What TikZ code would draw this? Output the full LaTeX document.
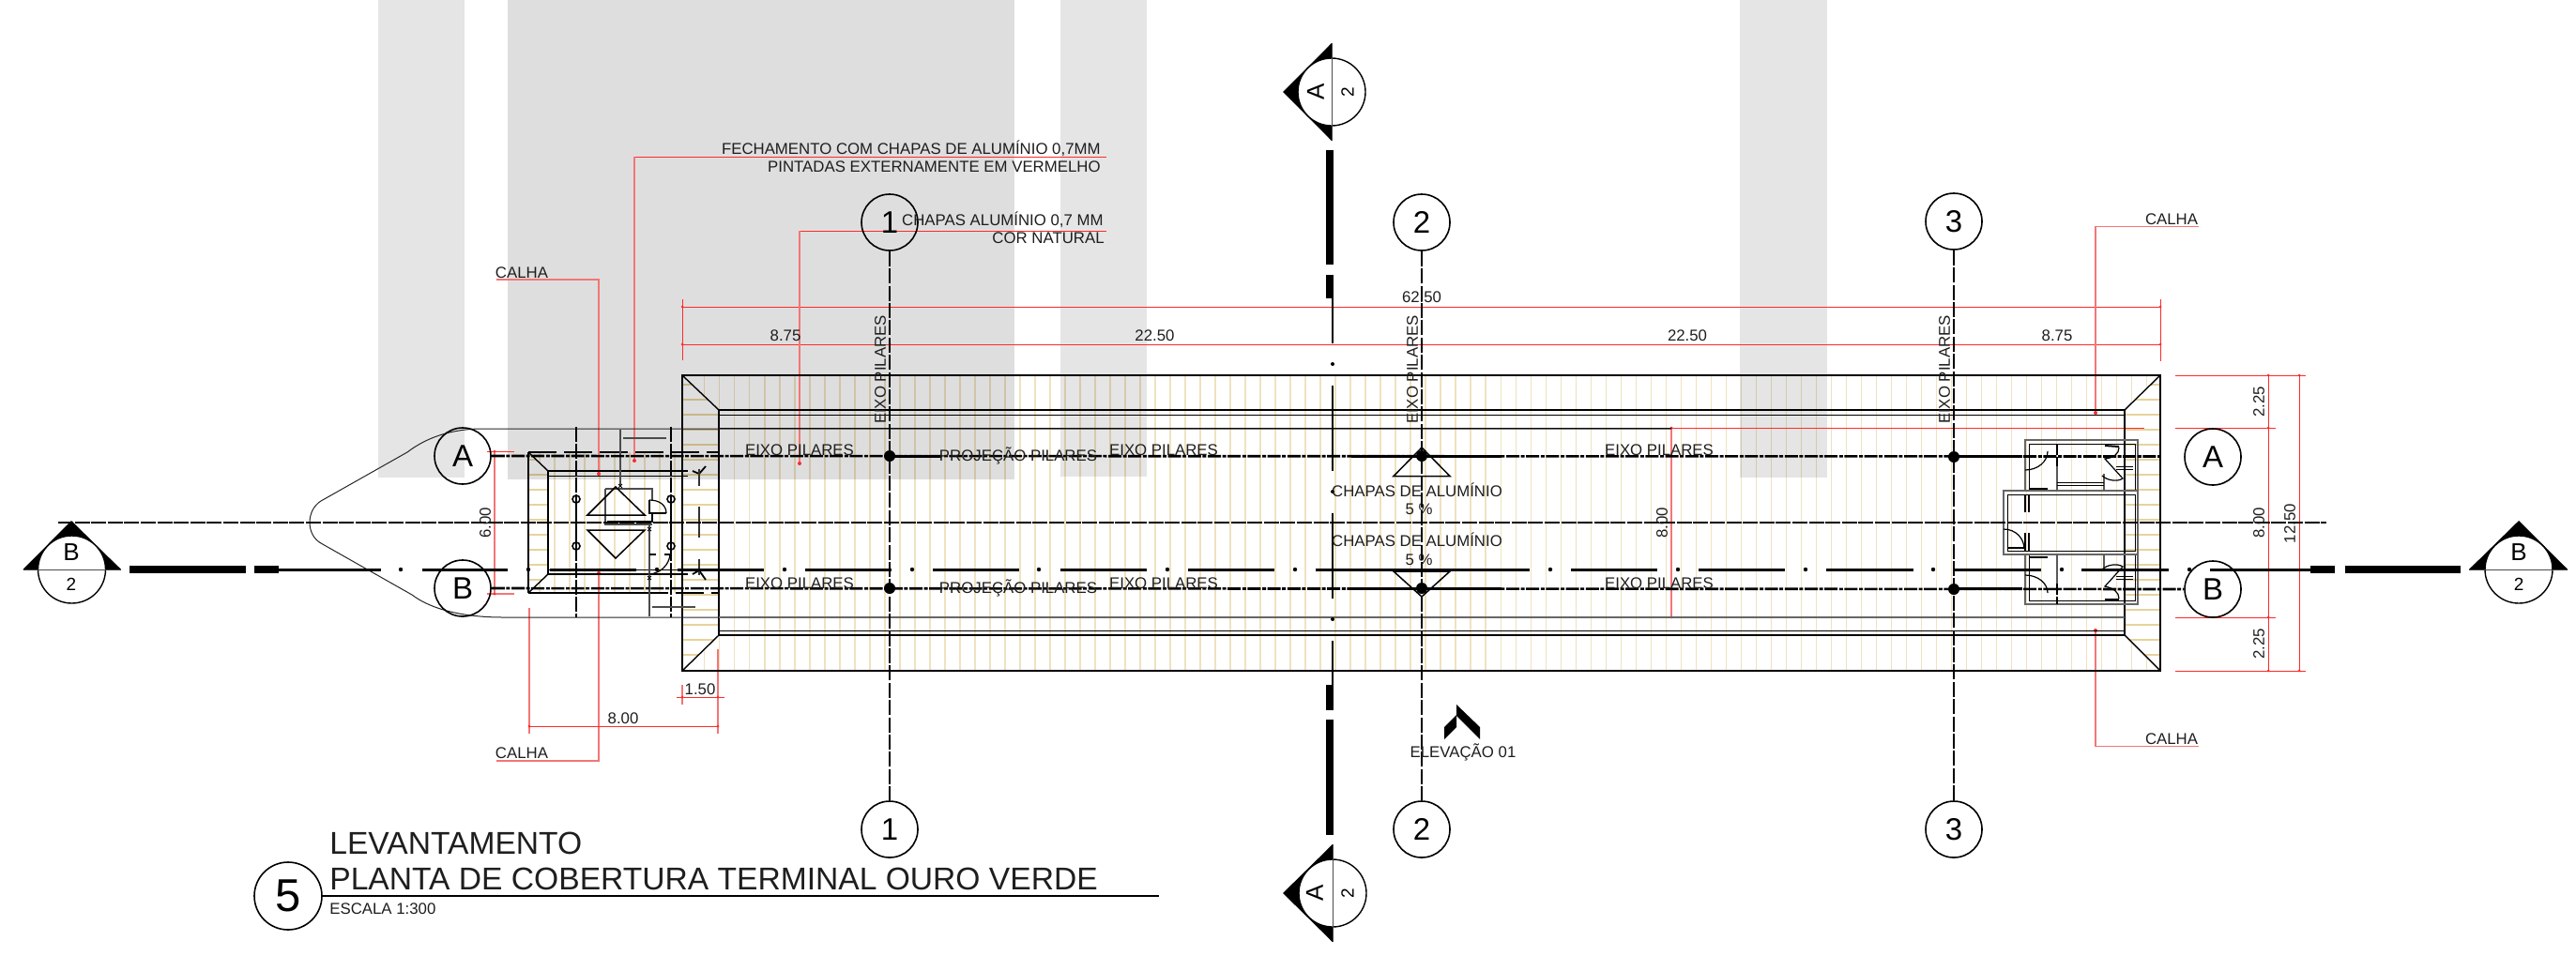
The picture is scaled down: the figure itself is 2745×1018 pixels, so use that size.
\documentclass[tikz,border=0pt]{standalone}
\usepackage{fontspec}
\setmainfont{Liberation Sans}
\definecolor{hatch}{HTML}{EFE2C0}
\definecolor{hatchh}{HTML}{E6D39C}
\definecolor{ink}{HTML}{1E1E1E}
\definecolor{redl}{HTML}{FF2A2A}
\definecolor{pinkl}{HTML}{F57575}
\tikzset{
  bub/.style={circle,draw=black,line width=0.8pt,minimum size=30pt,inner sep=0pt,font=\fontsize{16.5}{18}\selectfont},
  lab/.style={inner sep=0pt,text=ink,font=\fontsize{8.4}{10}\selectfont},
  secA/.style={inner sep=0pt,font=\fontsize{13}{15}\selectfont},
  secN/.style={inner sep=0pt,font=\fontsize{9.5}{11}\selectfont},
  gridl/.style={line width=1.3pt,dash pattern=on 8pt off 1.2pt,black},
  axisl/.style={line width=1.3pt,dash pattern=on 7pt off .8pt on 2pt off .8pt,black},
  secdash/.style={line width=1.5pt,black},
  hat/.style={line width=.75pt,hatch},
  hath/.style={line width=.7pt,hatchh},
  red1/.style={line width=.45pt,redl},
  red2/.style={line width=.75pt,pinkl},
  wall/.style={line width=.5pt,black},
  gwall/.style={line width=.6pt,black!60},
  thin1/.style={line width=.7pt,black},
}
\begin{document}
\begin{tikzpicture}[x=.5pt,y=-.5pt]
\useasboundingbox (0,0) rectangle (2745,1018);
\fill[white] (0,0) rectangle (2745,1018);
% hatching, main roof
\begin{scope}
\clip (727,400)--(2302,400)--(2264,437)--(2264,677)--(2302,715)--(727,715)--(766,677)--(766,437)--cycle;
\foreach \k in {0,...,96}{\draw[hat] ({750.7+16.01*\k},400)--({750.7+16.01*\k},715);}
\end{scope}
\begin{scope}
\clip (727,400)--(766,437)--(766,677)--(727,715)--cycle;
\foreach \k in {0,...,19}{\draw[hath] (727,{410+16*\k})--(766,{410+16*\k});}
\end{scope}
\begin{scope}
\clip (2302,400)--(2264,437)--(2264,677)--(2302,715)--cycle;
\foreach \k in {0,...,19}{\draw[hath] (2264,{410+16*\k})--(2302,{410+16*\k});}
\end{scope}
% hatching, small roof
\begin{scope}
\clip (563,482)--(727,482)--(727,632)--(563,632)--(584,612)--(584,502)--cycle;
\foreach \k in {0,...,9}{\draw[hat] ({575+16*\k},482)--({575+16*\k},632);}
\end{scope}
\begin{scope}
\clip (563,482)--(584,502)--(584,612)--(563,632)--cycle;
\foreach \k in {0,...,8}{\draw[hath] (563,{490+16*\k})--(584,{490+16*\k});}
\end{scope}
% grey bands
\fill[black,opacity=.10] (403,0) rectangle (495,509);
\fill[black,opacity=.13] (541,0) rectangle (1081,511);
\fill[black,opacity=.10] (1130,0) rectangle (1222,508);
\fill[black,opacity=.10] (1854,0) rectangle (1947,509);
% red leaders and dimensions
\draw[red1] (727,319)--(727,384);
\draw[red1] (2302,319)--(2302,385);
\draw[red1] (727,327)--(2302,327);
\draw[red1] (727,367)--(2302,367);
\foreach \p in {(727,327),(727,367),(2302,327),(2302,367),(948,367),(1515,367),(2082,367)}{\fill[redl] \p circle (1.5);}
\draw[red2] (529,298)--(638,298)--(638,505);
\fill[redl] (638,505) circle (2);
\draw[red2] (529,811)--(638,811)--(638,611);
\fill[redl] (638,611) circle (2);
\draw[red1] (1179,167)--(676,167);
\draw[red2] (676,167)--(676,491);
\fill[redl] (676,491) circle (2);
\draw[red1] (1179,246)--(852,246);
\draw[red2] (852,246)--(852,494);
\fill[redl] (852,494) circle (2);
\draw[red1] (519,481)--(548,481);
\draw[red2] (519,633)--(548,633);
\draw[red2] (527,481)--(527,633);
\fill[redl] (527,481) circle (1.5);
\fill[redl] (527,633) circle (1.5);
\draw[red2] (727,730)--(727,751);
\draw[red2] (765,692)--(765,782);
\draw[red1] (721,743)--(772,743);
\fill[redl] (727,743) circle (1.5);
\fill[redl] (765,743) circle (1.5);
\draw[red2] (564,648)--(564,782);
\draw[red1] (564,774)--(765,774);
\fill[redl] (564,774) circle (1.5);
\fill[redl] (765,774) circle (1.5);
\draw[red1] (2318,400)--(2457,400);
\draw[red1] (2318,456)--(2425,456);
\draw[red1] (2318,658)--(2425,658);
\draw[red1] (2318,715)--(2457,715);
\draw[red1] (2417,400)--(2417,715);
\draw[red1] (2450,400)--(2450,715);
\foreach \p in {(2417,400),(2417,456),(2417,658),(2417,715),(2450,400),(2450,715)}{\fill[redl] \p circle (1.5);}
\draw[red2] (2343,241.5)--(2233,241.5)--(2233,440);
\fill[redl] (2233,440) circle (2);
\draw[red2] (2343,795.5)--(2233,795.5)--(2233,672);
\fill[redl] (2233,672) circle (2);
\draw[red1] (1781,456)--(2285,456);
\draw[red2] (1781,456)--(1781,658);
\draw[red1] (1744,658)--(1788,658);
\fill[redl] (1781,456) circle (1.5);
\fill[redl] (1781,658) circle (1.5);
% roof outlines
\draw[thin1] (727,400) rectangle (2302,715);
\draw[line width=1.05pt,dash pattern=on 20pt off 4pt] (727,400)--(2302,400);
\draw[line width=1.05pt,dash pattern=on 20pt off 4pt] (727,715)--(2302,715);
\draw[thin1] (766,437) rectangle (2264,677);
\draw[wall] (766,442)--(2264,442);
\draw[wall] (766,672)--(2264,672);
\draw[wall] (766,456.5)--(1781,456.5);
\draw[line width=.6pt,black!60] (766,658)--(2264,658);
\draw[thin1] (727,400)--(766,437);
\draw[thin1] (727,715)--(766,677);
\draw[thin1] (2302,400)--(2264,437);
\draw[thin1] (2302,715)--(2264,677);
% small roof
\draw[thin1] (563,482)--(563,632);
\draw[line width=1.1pt] (563,632)--(682,632);
\draw[line width=1pt,dash pattern=on 15pt off 4pt] (682,632)--(766,632);
\draw[line width=1pt,dash pattern=on 15pt off 4pt] (563,482)--(766,482);
\draw[thin1] (563,482)--(584,502);
\draw[thin1] (563,632)--(584,612);
\draw[thin1] (584,502)--(584,612);
\draw[thin1] (584,502)--(733,502);
\draw[wall] (584,507)--(733,507);
\draw[thin1] (584,612)--(733,612);
\draw[wall] (584,607)--(733,607);
\draw[line width=.9pt] (738,502)--(745,505)--(752,497);
\draw[line width=.9pt] (738,612)--(745,608)--(752,618);
\draw[line width=.8pt,black!80] (745,500)--(745,518);
\draw[line width=.8pt,black!80] (745,540)--(745,573);
\draw[line width=.8pt,black!80] (745,596)--(745,613);
% outline of the canopy
\draw[line width=.5pt,black!85] (1781,457)--(510,457) .. controls (480,458) and (455,466) .. (434,482)
 -- (342,534) .. controls (326,544) and (326,570) .. (342,579) -- (439,634)
 .. controls (460,650) and (495,658) .. (536,658)--(766,658);
% small building columns
\draw[line width=1.2pt,dash pattern=on 8pt off 1pt] (614,455)--(614,532);
\draw[line width=1.2pt] (614,532)--(614,582);
\draw[line width=1.2pt,dash pattern=on 8pt off 1pt] (614,582)--(614,658);
\draw[line width=1.2pt,dash pattern=on 8pt off 1pt] (715,455)--(715,532);
\draw[line width=1.2pt] (715,532)--(715,582);
\draw[line width=1.2pt,dash pattern=on 8pt off 1pt] (715,582)--(715,658);
\foreach \p in {(614,532),(715,532),(614,582),(715,582)}{\draw[line width=.8pt] \p circle (4);}
% small building room
\draw[line width=.8pt,black!70] (645,521)--(695,521)--(695,533);
\draw[line width=1.2pt,black!70] (645,521)--(645,559)--(695,559);
\draw[line width=.8pt] (692,533)--(692,547)--(710,547);
\draw[line width=.6pt] (692,533) .. controls (702,533) and (710,538) .. (710,547);
\draw[line width=1.1pt] (647,556)--(695,556)--(695,547);
\draw[line width=.9pt,black!70] (692,560)--(692,657);
\draw[line width=.9pt,black!70] (661,458)--(661,517);
\draw[line width=1pt,black!70] (664,467)--(710,467);
\draw[line width=1pt,black!70] (695,647)--(741,647);
\foreach \x/\y in {661/518,692/564,692/616}{\draw[line width=.5pt] ({\x-2},{\y-2})--({\x+2},{\y+2}) ({\x-2},{\y+2})--({\x+2},{\y-2});}
\draw[line width=1.2pt] (692,591)--(699,591);
\draw[line width=1.2pt] (708,591)--(715,591);
\draw[line width=.6pt] (714,591) .. controls (713,602) and (704,611) .. (692,612);
% main pillars triangles
\draw[line width=.75pt,black] (656,519)--(687,549)--(626,549)--cycle;
\draw[line width=.75pt,black] (626,565)--(687,565)--(656,595)--cycle;
\draw[line width=.75pt,black] (1515,477)--(1545,507.5)--(1485,507.5)--cycle;
\draw[line width=.75pt,black] (1485,609)--(1545,609)--(1515,636)--cycle;
% toilets
\draw[gwall] (2158,523)--(2158,469)--(2278,469)--(2278,523);
\draw[wall] (2162,523)--(2162,473)--(2275,473)--(2275,523);
\draw[gwall] (2158,590)--(2158,644)--(2278,644)--(2278,590);
\draw[wall] (2162,590)--(2162,640)--(2275,640)--(2275,590);
\draw[gwall] (2135,523)--(2278,523)--(2278,591)--(2135,591)--cycle;
\draw[wall] (2139,527)--(2275,527)--(2275,587)--(2139,587)--cycle;
\draw[line width=.6pt] (2158,501) arc (90:0:24 and 20);
\draw[line width=1pt] (2162,521)--(2182,521);
\draw[line width=.6pt] (2158,613) arc (270:360:24 and 19);
\draw[line width=1pt] (2162,594)--(2182,594);
\draw[line width=.6pt] (2135,564) .. controls (2148,564) and (2157,574) .. (2157,585);
\draw[line width=1pt] (2139,584)--(2157,584);
\foreach \a/\b in {527/546,568/587}{\draw[line width=.8pt] (2158,\a)--(2158,\b); \draw[line width=.8pt] (2162,\a)--(2162,\b);}
\draw[line width=.7pt,dash pattern=on 6pt off 1pt] (2192,473)--(2192,497);
\draw[line width=1pt,black!65] (2192,497)--(2192,523);
\draw[line width=1pt,black!65] (2242,505)--(2242,523);
\draw[wall] (2192,514)--(2242,514);
\draw[wall] (2192,517.5)--(2242,517.5);
\draw[line width=1pt,black!65] (2192,591)--(2192,622);
\draw[line width=.7pt,dash pattern=on 6pt off 1pt] (2192,622)--(2192,644);
\draw[line width=1pt,black!65] (2242,591)--(2242,605);
\draw[line width=1pt] (2243,475)--(2258,476);
\draw[line width=.6pt] (2258,477) .. controls (2258,484) and (2252,488) .. (2243,489)--(2262,510) .. controls (2256,514) and (2245,512) .. (2240,507);
\draw[wall] (2255,497)--(2273,497);
\draw[wall] (2255,500)--(2273,500);
\draw[line width=1pt] (2243,639)--(2258,639);
\draw[line width=.6pt] (2258,638) .. controls (2258,631) and (2252,627) .. (2243,625)--(2262,604) .. controls (2256,600) and (2245,602) .. (2240,607);
\draw[wall] (2255,614)--(2273,614);
\draw[wall] (2255,617)--(2273,617);
% section line B
\foreach \a/\b in {450/541,586/678,722/814,858/950,994/1086,1130/1222,1266/1358,1402/1630,1674/1766,1810/1902,1946/2039,2082/2175,2218/2311}{\draw[secdash] (\a,607)--(\b,607);}
\foreach \x in {427,563,700,836,972,1107,1244,1380,1652,1788,1924,2060,2197,2333}{\fill[black] (\x,607) circle (2.2);}
\draw[secdash] (297,607)--(406,607);
\draw[secdash] (2355,607)--(2462,607);
\fill[black] (138,603) rectangle (262,611);
\fill[black] (271,603) rectangle (297,611);
\fill[black] (2462,603) rectangle (2488,611);
\fill[black] (2499,603) rectangle (2622,611);
% section line A
\fill[black] (1413,160) rectangle (1421,282);
\fill[black] (1413,293) rectangle (1421,318);
\fill[black] (1413,730) rectangle (1421,757);
\fill[black] (1413,767) rectangle (1421,890);
\foreach \a/\b in {318/366,411/502,547/638,683/730}{\draw[line width=1pt] (1420,\a)--(1420,\b);}
\foreach \y in {388,524,660}{\fill[black] (1420,\y) circle (2);}
% centre line
\coordinate (mL) at (62,557);
\coordinate (mR) at (2479,557);
\draw[line width=1.2pt,dash pattern=on 8pt off .8pt] (mL)--(mR);
% grid bubbles and axes
\node[bub] (g1t) at (948,237) {1};
\node[bub] (g2t) at (1515,237) {2};
\node[bub] (g3t) at (2082,236) {3};
\node[bub] (g1b) at (948,884) {1};
\node[bub] (g2b) at (1515,884) {2};
\node[bub] (g3b) at (2082,884) {3};
\node[bub] (aL) at (493,486) {A};
\node[bub] (bL) at (493,627) {B};
\node[bub] (aR) at (2358,487) {A};
\node[bub] (bR) at (2358,628) {B};
\coordinate (aE) at (2302,486.5);
\draw[gridl] (g1t)--(g1b);
\draw[gridl] (g2t)--(g2b);
\draw[gridl] (g3t)--(g3b);
\draw[axisl] (aL)--(aE);
\draw[axisl] (bL)--(bR);
\foreach \a/\b in {948/1003,1440/1600,2082/2155}{\draw[line width=1.3pt] (\a,486.5)--(\b,486.5);}
\foreach \a/\b in {1440/1600,2082/2155}{\draw[line width=1.3pt] (\a,627.5)--(\b,627.5);}
\foreach \p in {(948,486),(1515,486),(2082,487),(948,627),(1515,627),(2082,628)}{\fill[black] \p circle (6);}
% section symbols
\fill[black] (24.5,607)--(76,555)--(129,607)--cycle;
\node[circle,draw=black,line width=.7pt,fill=white,minimum size=36pt,inner sep=0pt] (sB1) at (76.5,607) {};
\draw[line width=.5pt,black!70] (24.5,607)--(129,607);
\fill[black] (24.5,607)--(38,594)--(41,607)--cycle;
\fill[black] (129,607)--(115,594)--(112,607)--cycle;
\node[secA] (sB1a) at (76,589) {B};
\node[secN] (sB1n) at (76,623) {2};
\fill[black] (2631,607)--(2684,555)--(2736,607)--cycle;
\node[circle,draw=black,line width=.7pt,fill=white,minimum size=36pt,inner sep=0pt] (sB2) at (2684,607) {};
\draw[line width=.5pt,black!70] (2631,607)--(2736,607);
\fill[black] (2631,607)--(2645,594)--(2648,607)--cycle;
\fill[black] (2736,607)--(2722,594)--(2719,607)--cycle;
\node[secA] (sB2a) at (2684,589) {B};
\node[secN] (sB2n) at (2684,623) {2};
\fill[black] (1419,46)--(1367,98)--(1419,150)--cycle;
\node[circle,draw=black,line width=.7pt,fill=white,minimum size=36pt,inner sep=0pt] (sA1) at (1419,98) {};
\draw[line width=.5pt,black!70] (1419,46)--(1419,150);
\fill[black] (1419,46)--(1406,60)--(1419,62)--cycle;
\fill[black] (1419,150)--(1406,136)--(1419,134)--cycle;
\node[secA,rotate=90] (sA1a) at (1402,98) {A};
\node[secN,rotate=90] (sA1n) at (1436,98) {2};
\fill[black] (1420,900)--(1367,952)--(1420,1004)--cycle;
\node[circle,draw=black,line width=.7pt,fill=white,minimum size=36pt,inner sep=0pt] (sA2) at (1420,952) {};
\draw[line width=.5pt,black!70] (1420,900)--(1420,1004);
\fill[black] (1420,900)--(1407,914)--(1420,916)--cycle;
\fill[black] (1420,1004)--(1407,990)--(1420,988)--cycle;
\node[secA,rotate=90] (sA2a) at (1401,952) {A};
\node[secN,rotate=90] (sA2n) at (1436,952) {2};
% elevation arrow
\fill[black] (1552,751)--(1577,775)--(1577,788)--(1552,763)--cycle;
\fill[black] (1539,775)--(1552,762)--(1552,775)--(1539,788)--cycle;
% labels
\node[lab,anchor=east] (t1) at (1173,158) {FECHAMENTO COM CHAPAS DE ALUMÍNIO 0,7MM};
\node[lab,anchor=east] (t2) at (1173,178) {PINTADAS EXTERNAMENTE EM VERMELHO};
\node[lab,anchor=east] (t3) at (1176,234) {CHAPAS ALUMÍNIO 0,7 MM};
\node[lab,anchor=east] (t4) at (1177,254) {COR NATURAL};
\node[lab] (c1) at (556,291) {CALHA};
\node[lab] (c2) at (556,803) {CALHA};
\node[lab] (c3) at (2314,234) {CALHA};
\node[lab] (c4) at (2314,788) {CALHA};
\node[lab] (d1) at (1515,317) {62.50};
\node[lab] (d2) at (837,357.5) {8.75};
\node[lab] (d3) at (1230.5,357.5) {22.50};
\node[lab] (d4) at (1798,357.5) {22.50};
\node[lab] (d5) at (2192,357.5) {8.75};
\node[lab] (d6) at (746,735) {1.50};
\node[lab] (d7) at (664,766) {8.00};
\node[lab,rotate=90] (d8) at (517,557) {6.00};
\node[lab,rotate=90] (d9) at (2407,428) {2.25};
\node[lab,rotate=90] (d10) at (2407,557) {8.00};
\node[lab,rotate=90] (d11) at (2407,686) {2.25};
\node[lab,rotate=90] (d12) at (2440,558) {12.50};
\node[lab,rotate=90] (d13) at (1771,557) {8.00};
\node[lab,rotate=90] (e1) at (938,394) {EIXO PILARES};
\node[lab,rotate=90] (e2) at (1505,394) {EIXO PILARES};
\node[lab,rotate=90] (e3) at (2072,394) {EIXO PILARES};
\foreach \x/\n in {852/a,1240/b,1768/c}{
  \node[lab] (ex\n) at (\x,480) {EIXO PILARES};
  \node[lab] (ey\n) at (\x,622) {EIXO PILARES};}
\node[lab] (p1) at (1085,486) {PROJEÇÃO PILARES};
\node[lab] (p2) at (1085,627) {PROJEÇÃO PILARES};
\node[lab] (h1) at (1510,522.5) {CHAPAS DE ALUMÍNIO};
\node[lab] (h2) at (1512,542.5) {5 \%};
\node[lab] (h3) at (1510,575) {CHAPAS DE ALUMÍNIO};
\node[lab] (h4) at (1512,597) {5 \%};
\node[lab] (el) at (1559,802) {ELEVAÇÃO 01};
% title
\node[bub,minimum size=36pt,font=\fontsize{24.5}{26}\selectfont] (tc) at (307,955) {5};
\draw[line width=.7pt] (tc.east)--(1235,955);
\node[lab,anchor=west,font=\fontsize{16.8}{19}\selectfont] (ti1) at (351,899) {LEVANTAMENTO};
\node[lab,anchor=west,font=\fontsize{16.8}{19}\selectfont] (ti2) at (351,937) {PLANTA DE COBERTURA TERMINAL OURO VERDE};
\node[lab,anchor=west] (ti3) at (351,969) {ESCALA 1:300};
\end{tikzpicture}
\end{document}
